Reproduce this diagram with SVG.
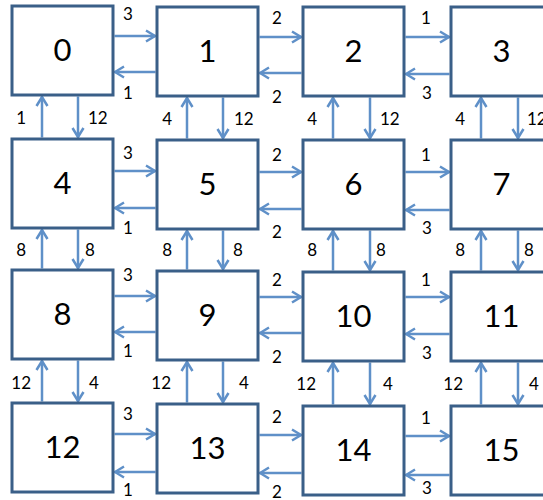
<svg xmlns="http://www.w3.org/2000/svg" width="543" height="500" viewBox="0 0 543 500">
<style>
.box{fill:#ffffff;stroke:#3a5f88;stroke-width:3}
.num{font-family:Lato,"Open Sans","Liberation Sans",sans-serif;font-size:31px;fill:#000;text-anchor:middle}
.lbl{font-family:Lato,"Open Sans","Liberation Sans",sans-serif;font-size:17px;fill:#000}
.c{text-anchor:middle}
.e{text-anchor:end}
.s{text-anchor:start}
.arr{stroke:#5f90c8;stroke-width:2.5;fill:none;marker-end:url(#ah)}
</style>
<defs>
<marker id="ah" viewBox="0 0 12 14" refX="11" refY="7" markerWidth="12" markerHeight="14" markerUnits="userSpaceOnUse" orient="auto">
<path d="M1.5,1.5 L10.5,7 L1.5,12.5" fill="none" stroke="#5f90c8" stroke-width="2.5"/>
</marker>
</defs>
<rect width="543" height="500" fill="#ffffff"/>
<g id="connectors">
<line class="arr" x1="114.5" y1="36" x2="155.5" y2="36"/>
<line class="arr" x1="155.5" y1="72" x2="114.5" y2="72"/>
<line class="arr" x1="259.5" y1="37" x2="301.5" y2="37"/>
<line class="arr" x1="301.5" y1="73" x2="259.5" y2="73"/>
<line class="arr" x1="405.5" y1="37" x2="449.5" y2="37"/>
<line class="arr" x1="449.5" y1="74" x2="405.5" y2="74"/>
<line class="arr" x1="114.5" y1="171" x2="155.5" y2="171"/>
<line class="arr" x1="155.5" y1="208" x2="114.5" y2="208"/>
<line class="arr" x1="259.5" y1="172" x2="301.5" y2="172"/>
<line class="arr" x1="301.5" y1="209" x2="259.5" y2="209"/>
<line class="arr" x1="405.5" y1="172" x2="449.5" y2="172"/>
<line class="arr" x1="449.5" y1="210" x2="405.5" y2="210"/>
<line class="arr" x1="114.5" y1="296" x2="155.5" y2="296"/>
<line class="arr" x1="155.5" y1="332" x2="114.5" y2="332"/>
<line class="arr" x1="259.5" y1="297" x2="301.5" y2="297"/>
<line class="arr" x1="301.5" y1="333" x2="259.5" y2="333"/>
<line class="arr" x1="405.5" y1="297" x2="449.5" y2="297"/>
<line class="arr" x1="449.5" y1="334" x2="405.5" y2="334"/>
<line class="arr" x1="114.5" y1="434" x2="155.5" y2="434"/>
<line class="arr" x1="155.5" y1="472" x2="114.5" y2="472"/>
<line class="arr" x1="259.5" y1="435" x2="301.5" y2="435"/>
<line class="arr" x1="301.5" y1="473" x2="259.5" y2="473"/>
<line class="arr" x1="405.5" y1="436" x2="449.5" y2="436"/>
<line class="arr" x1="449.5" y1="475" x2="405.5" y2="475"/>
<line class="arr" x1="42" y1="137.5" x2="42" y2="96.5"/>
<line class="arr" x1="78" y1="96.5" x2="78" y2="137.5"/>
<line class="arr" x1="42" y1="268.5" x2="42" y2="229.5"/>
<line class="arr" x1="78" y1="229.5" x2="78" y2="268.5"/>
<line class="arr" x1="42" y1="401.5" x2="42" y2="360.5"/>
<line class="arr" x1="78" y1="360.5" x2="78" y2="401.5"/>
<line class="arr" x1="187" y1="138.5" x2="187" y2="97.5"/>
<line class="arr" x1="223" y1="97.5" x2="223" y2="138.5"/>
<line class="arr" x1="187" y1="269.5" x2="187" y2="230.5"/>
<line class="arr" x1="223" y1="230.5" x2="223" y2="269.5"/>
<line class="arr" x1="187" y1="402.5" x2="187" y2="361.5"/>
<line class="arr" x1="223" y1="361.5" x2="223" y2="402.5"/>
<line class="arr" x1="333" y1="138.5" x2="333" y2="97.5"/>
<line class="arr" x1="370" y1="97.5" x2="370" y2="138.5"/>
<line class="arr" x1="333" y1="270.5" x2="333" y2="230.5"/>
<line class="arr" x1="370" y1="230.5" x2="370" y2="270.5"/>
<line class="arr" x1="333" y1="404.5" x2="333" y2="362.5"/>
<line class="arr" x1="370" y1="362.5" x2="370" y2="404.5"/>
<line class="arr" x1="481" y1="138.5" x2="481" y2="97.5"/>
<line class="arr" x1="518" y1="97.5" x2="518" y2="138.5"/>
<line class="arr" x1="481" y1="270.5" x2="481" y2="230.5"/>
<line class="arr" x1="518" y1="230.5" x2="518" y2="270.5"/>
<line class="arr" x1="481" y1="404.5" x2="481" y2="362.5"/>
<line class="arr" x1="518" y1="362.5" x2="518" y2="404.5"/>
</g>
<g id="labels">
<text class="lbl c" x="128" y="20">3</text>
<text class="lbl c" x="277" y="24">2</text>
<text class="lbl c" x="426" y="24">1</text>
<text class="lbl c" x="128" y="159">3</text>
<text class="lbl c" x="277" y="161">2</text>
<text class="lbl c" x="426" y="161">1</text>
<text class="lbl c" x="128" y="281">3</text>
<text class="lbl c" x="277" y="286">2</text>
<text class="lbl c" x="426" y="286">1</text>
<text class="lbl c" x="128" y="420">3</text>
<text class="lbl c" x="277" y="423">2</text>
<text class="lbl c" x="426" y="424">1</text>
<text class="lbl c" x="128" y="99">1</text>
<text class="lbl c" x="277" y="103">2</text>
<text class="lbl c" x="427" y="99">3</text>
<text class="lbl c" x="128" y="234">1</text>
<text class="lbl c" x="277" y="238">2</text>
<text class="lbl c" x="427" y="234">3</text>
<text class="lbl c" x="128" y="357">1</text>
<text class="lbl c" x="277" y="363">2</text>
<text class="lbl c" x="427" y="359">3</text>
<text class="lbl c" x="128" y="496">1</text>
<text class="lbl c" x="277" y="498">2</text>
<text class="lbl c" x="427" y="494">3</text>
<text class="lbl e" x="26" y="124">1</text>
<text class="lbl e" x="172" y="125">4</text>
<text class="lbl e" x="317" y="125">4</text>
<text class="lbl e" x="465" y="125">4</text>
<text class="lbl e" x="26" y="256">8</text>
<text class="lbl e" x="172" y="256">8</text>
<text class="lbl e" x="317" y="256">8</text>
<text class="lbl e" x="465" y="256">8</text>
<text class="lbl e" x="31" y="389">12</text>
<text class="lbl e" x="171" y="389">12</text>
<text class="lbl e" x="316" y="390">12</text>
<text class="lbl e" x="463" y="390">12</text>
<text class="lbl s" x="88" y="124">12</text>
<text class="lbl s" x="234" y="125">12</text>
<text class="lbl s" x="380" y="125">12</text>
<text class="lbl s" x="527" y="125">12</text>
<text class="lbl s" x="85" y="256">8</text>
<text class="lbl s" x="233" y="256">8</text>
<text class="lbl s" x="376" y="256">8</text>
<text class="lbl s" x="524" y="256">8</text>
<text class="lbl s" x="89" y="389">4</text>
<text class="lbl s" x="239" y="389">4</text>
<text class="lbl s" x="383" y="390">4</text>
<text class="lbl s" x="529" y="390">4</text>
</g>
<g id="n0"><rect class="box" x="12" y="6" width="101" height="89"/><text class="num" x="62.5" y="61">0</text></g>
<g id="n1"><rect class="box" x="157" y="7" width="101" height="89"/><text class="num" x="207.5" y="62">1</text></g>
<g id="n2"><rect class="box" x="303" y="7" width="101" height="89"/><text class="num" x="353.5" y="62">2</text></g>
<g id="n3"><rect class="box" x="451" y="7" width="101" height="89"/><text class="num" x="501.5" y="62">3</text></g>
<g id="n4"><rect class="box" x="12" y="139" width="101" height="89"/><text class="num" x="62.5" y="194">4</text></g>
<g id="n5"><rect class="box" x="157" y="140" width="101" height="89"/><text class="num" x="207.5" y="195">5</text></g>
<g id="n6"><rect class="box" x="303" y="140" width="101" height="89"/><text class="num" x="353.5" y="195">6</text></g>
<g id="n7"><rect class="box" x="451" y="140" width="101" height="89"/><text class="num" x="501.5" y="195">7</text></g>
<g id="n8"><rect class="box" x="12" y="270" width="101" height="89"/><text class="num" x="62.5" y="325">8</text></g>
<g id="n9"><rect class="box" x="157" y="271" width="101" height="89"/><text class="num" x="207.5" y="326">9</text></g>
<g id="n10"><rect class="box" x="303" y="272" width="101" height="89"/><text class="num" x="353.5" y="327">10</text></g>
<g id="n11"><rect class="box" x="451" y="272" width="101" height="89"/><text class="num" x="501.5" y="327">11</text></g>
<g id="n12"><rect class="box" x="12" y="403" width="101" height="89"/><text class="num" x="62.5" y="458">12</text></g>
<g id="n13"><rect class="box" x="157" y="404" width="101" height="89"/><text class="num" x="207.5" y="459">13</text></g>
<g id="n14"><rect class="box" x="303" y="406" width="101" height="89"/><text class="num" x="353.5" y="461">14</text></g>
<g id="n15"><rect class="box" x="451" y="406" width="101" height="89"/><text class="num" x="501.5" y="461">15</text></g>
</svg>
